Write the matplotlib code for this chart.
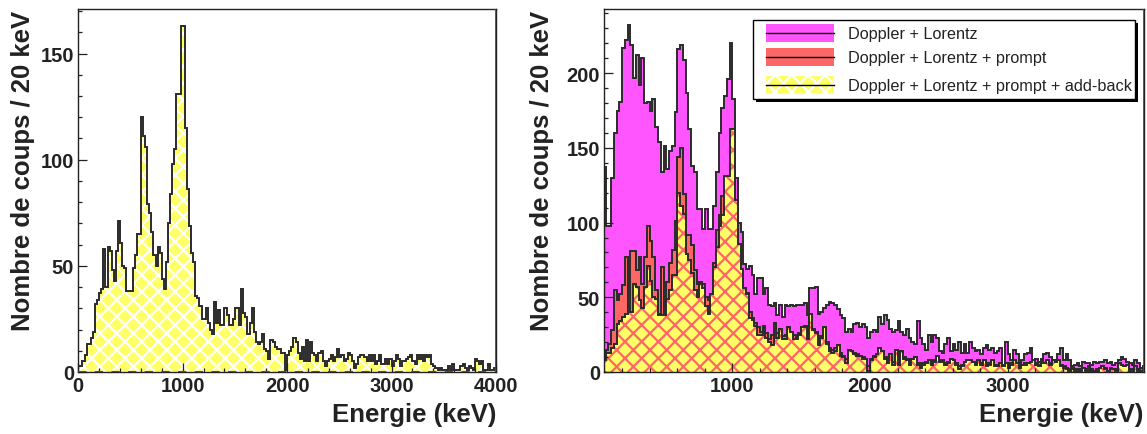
import numpy as np
import matplotlib
matplotlib.use("Agg")
import matplotlib.pyplot as plt
from matplotlib.patches import Rectangle
from matplotlib.ticker import MultipleLocator

plt.rcParams['font.family'] = ['Liberation Sans', 'DejaVu Sans']
plt.rcParams['hatch.linewidth'] = 1.6

# 20 keV bins from 0 to 4000 keV
edges = np.arange(0, 4001, 20)

# Doppler + Lorentz + prompt + add-back (left panel, yellow in right panel)
addback = [
    3, 3, 5, 8, 13, 13, 16, 19, 32, 34,
    37, 39, 58, 40, 59, 57, 48, 43, 57, 71,
    61, 50, 49, 38, 38, 38, 49, 55, 65, 65,
    120, 111, 106, 79, 75, 66, 55, 50, 59, 56,
    44, 39, 52, 70, 84, 98, 105, 131, 131, 163,
    163, 115, 86, 69, 56, 52, 36, 35, 31, 25,
    25, 30, 23, 20, 18, 33, 23, 29, 22, 22,
    30, 27, 22, 22, 25, 30, 30, 22, 39, 28,
    26, 18, 23, 30, 19, 14, 13, 14, 18, 11,
    10, 6, 15, 14, 12, 11, 11, 9, 9, 1,
    8, 10, 12, 16, 14, 9, 6, 12, 5, 15,
    5, 14, 9, 8, 5, 9, 10, 5, 3, 5,
    6, 8, 5, 7, 11, 7, 8, 5, 6, 9,
    8, 5, 2, 4, 7, 8, 8, 7, 5, 8,
    5, 8, 4, 5, 8, 4, 4, 6, 4, 6,
    3, 5, 8, 6, 3, 5, 5, 6, 7, 8,
    5, 4, 8, 6, 8, 5, 8, 7, 8, 4,
    3, 2, 1, 2, 1, 1, 1, 3, 1, 4,
    1, 1, 1, 3, 4, 2, 1, 3, 2, 1,
    6, 5, 4, 5, 1, 1, 4, 1, 1, 2,
]

# Doppler + Lorentz (magenta)
doppler = [
    0, 0, 0, 137, 98, 98, 130, 160, 175, 181,
    217, 222, 232, 219, 197, 212, 192, 210, 180, 181,
    175, 183, 164, 154, 134, 151, 136, 148, 151, 174,
    216, 219, 209, 187, 163, 138, 134, 109, 109, 96,
    109, 96, 96, 111, 134, 160, 177, 185, 196, 220,
    183, 130, 100, 94, 72, 69, 71, 65, 52, 63,
    63, 52, 56, 45, 44, 46, 38, 45, 37, 45,
    44, 45, 44, 45, 45, 45, 46, 38, 56, 56,
    57, 39, 40, 43, 45, 47, 46, 45, 42, 38,
    36, 27, 29, 27, 32, 33, 30, 32, 30, 23,
    27, 28, 27, 37, 32, 38, 35, 29, 27, 28,
    34, 27, 25, 29, 23, 20, 19, 34, 23, 19,
    15, 25, 20, 25, 23, 14, 13, 19, 23, 14,
    19, 15, 20, 13, 19, 13, 20, 16, 14, 15,
    12, 16, 18, 15, 16, 13, 14, 16, 5, 20,
    12, 8, 15, 12, 6, 8, 12, 13, 16, 8,
    9, 7, 9, 12, 13, 10, 8, 8, 12, 16,
    8, 12, 8, 4, 5, 6, 4, 7, 6, 6,
    5, 7, 6, 7, 7, 8, 6, 7, 5, 6,
    8, 10, 9, 7, 6, 5, 8, 6, 3, 4,
]

# Doppler + Lorentz + prompt (red)
prompt = [
    0, 0, 0, 6, 15, 19, 28, 55, 48, 52,
    58, 77, 52, 81, 81, 68, 77, 59, 77, 98,
    88, 77, 55, 39, 70, 37, 60, 73, 82, 101,
    144, 150, 119, 92, 92, 85, 68, 59, 60, 59,
    50, 48, 52, 73, 95, 105, 118, 128, 130, 155,
    155, 110, 84, 66, 56, 53, 40, 36, 33, 30,
    27, 31, 26, 22, 25, 33, 26, 29, 24, 25,
    30, 27, 25, 23, 26, 30, 31, 24, 39, 29,
    27, 22, 24, 30, 20, 16, 15, 16, 18, 13,
    11, 9, 15, 14, 13, 12, 11, 10, 9, 4,
    9, 11, 12, 16, 14, 10, 8, 12, 7, 15,
    7, 14, 10, 9, 6, 9, 10, 6, 5, 6,
    7, 8, 6, 8, 11, 8, 8, 6, 7, 9,
    8, 6, 4, 5, 7, 8, 8, 7, 6, 8,
    6, 8, 5, 6, 8, 5, 5, 6, 5, 6,
    4, 6, 8, 6, 4, 5, 6, 6, 7, 8,
    6, 5, 8, 6, 8, 6, 8, 7, 8, 5,
    4, 3, 2, 3, 2, 1, 2, 3, 2, 4,
    2, 1, 2, 3, 4, 3, 1, 3, 2, 2,
    6, 5, 4, 5, 2, 1, 4, 2, 1, 2,
]

labels = ["Doppler + Lorentz",
          "Doppler + Lorentz + prompt",
          "Doppler + Lorentz + prompt + add-back"]

c_mag = '#ff55ff'
c_red = '#ff6666'
c_yel = '#ffff66'
c_line = '#2b2b2b'

W, H = 1147, 435
fig = plt.figure(figsize=(W / 100, H / 100), dpi=100)
ax1 = fig.add_axes([78.3 / W, 62 / H, (496 - 78.3) / W, 363 / H])
ax2 = fig.add_axes([604.3 / W, 62 / H, (1144 - 604.3) / W, 363 / H])

# left panel
ax1.stairs(addback, edges, fill=True, facecolor=c_yel, edgecolor='white',
           hatch='xx', linewidth=0)
ax1.stairs(addback, edges, color=c_line, lw=1.4)
ax1.axhline(0, color='red', lw=1.5, ls=(0, (4, 4)), zorder=3)
ax1.set_xlim(0, 4000)
ax1.set_ylim(0, 171)
ax1.axvline(4000, color='red', lw=2, zorder=4)

# right panel
ax2.stairs(doppler, edges, fill=True, facecolor=c_mag, linewidth=0)
ax2.stairs(doppler, edges, color=c_line, lw=1.4)
ax2.stairs(prompt, edges, fill=True, facecolor=c_red, linewidth=0)
ax2.stairs(prompt, edges, color=c_line, lw=1.4)
ax2.stairs(addback, edges, fill=True, facecolor=c_yel, edgecolor=c_red,
           hatch='xx', linewidth=0)
ax2.stairs(addback, edges, color=c_line, lw=1.4)
ax2.set_xlim(70, 3990)
ax2.set_ylim(0, 243)
ax2.axvline(3990, color='red', lw=2, zorder=4)

for ax in (ax1, ax2):
    for s in ax.spines.values():
        s.set_linewidth(1.0)
        s.set_color('#222222')
    ax.xaxis.set_major_locator(MultipleLocator(1000))
    ax.xaxis.set_minor_locator(MultipleLocator(200))
    ax.yaxis.set_major_locator(MultipleLocator(50))
    ax.yaxis.set_minor_locator(MultipleLocator(10))
    ax.tick_params(which='both', direction='in', top=False, right=False,
                   width=0.9, color='#222222')
    ax.tick_params(which='major', length=6.5, labelsize=14.5, pad=3)
    ax.tick_params(which='minor', length=3.2)

ax2.set_xticks([1000, 2000, 3000])
for ax in (ax1, ax2):
    for t in ax.get_xticklabels() + ax.get_yticklabels():
        t.set_fontweight('bold')
        t.set_color('#222222')

# axis titles, ROOT style (right / top aligned)
for xr in (496, 1143):
    fig.text(xr / W, 1 - 422 / H, "Energie (keV)", ha='right', va='baseline',
             fontsize=18.5, fontweight='bold', color='#222222')
for xc in (23, 541.7):
    fig.text(xc / W, 1 - 11 / H, "Nombre de coups / 20 keV", rotation=90,
             ha='center', va='top', fontsize=18.5, fontweight='bold',
             color='#222222')

# legend box with shadow
lx0, lx1 = (752.7 - 604.3) / 539.7, (1135 - 604.3) / 539.7
ly1, ly0 = 1 - (21 - 10) / 363, 1 - (100 - 10) / 363
dx, dy = 3 / 539.7, 3 / 363
ax2.add_patch(Rectangle((lx0 + dx, ly0 - dy), lx1 - lx0, ly1 - ly0,
                        transform=ax2.transAxes, facecolor='black',
                        edgecolor='none', zorder=5))
ax2.add_patch(Rectangle((lx0, ly0), lx1 - lx0, ly1 - ly0,
                        transform=ax2.transAxes, facecolor='white',
                        edgecolor='black', lw=1.0, zorder=6))
sw0, sw1 = (766 - 604.3) / 539.7, (834 - 604.3) / 539.7
sh = 18 / 363
rows = [34.3, 58.3, 86.0]
styles = [dict(facecolor=c_mag, edgecolor='none', hatch=None),
          dict(facecolor=c_red, edgecolor='none', hatch=None),
          dict(facecolor=c_yel, edgecolor='white', hatch='xx')]
for lab, yr, st in zip(labels, rows, styles):
    yc = 1 - (yr - 10) / 363
    ax2.add_patch(Rectangle((sw0, yc - sh / 2), sw1 - sw0, sh,
                            transform=ax2.transAxes, lw=0, zorder=7, **st))
    ax2.plot([sw0, sw1], [yc, yc], transform=ax2.transAxes, color='black',
             lw=1.0, zorder=8)
    ax2.text((848.3 - 604.3) / 539.7, yc, lab, transform=ax2.transAxes,
             ha='left', va='center', fontsize=11.7, color='#222222', zorder=8)

fig.savefig("out.png", dpi=100)
